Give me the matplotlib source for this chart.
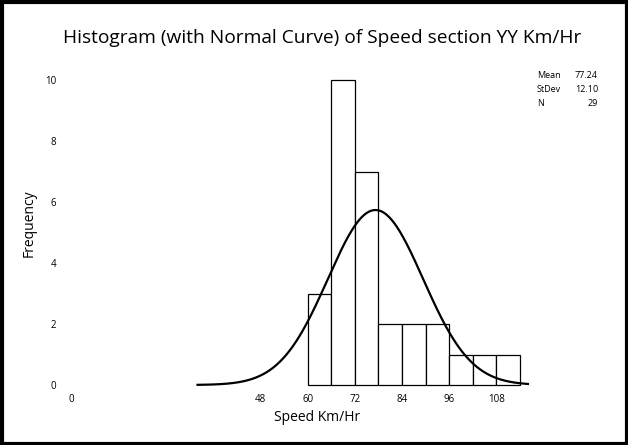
import numpy as np
import matplotlib
matplotlib.use("Agg")
import matplotlib.pyplot as plt
from matplotlib.patches import Rectangle

bin_edges = [60, 66, 72, 78, 84, 90, 96, 102, 108, 114]
counts = [3, 10, 7, 2, 2, 2, 1, 1, 1]
mean, stdev, n = 77.24, 12.10, 29
curve_range = (32, 116)
xticks = [0, 48, 60, 72, 84, 96, 108]
yticks = [0, 2, 4, 6, 8, 10]

W, H = 628, 445
fig = plt.figure(figsize=(W/100, H/100), dpi=100)
fig.patch.set_facecolor("white")
fam = ["Open Sans", "DejaVu Sans"]

# axes: x data -5..130 -> px 52..583 ; y -0.2..10.8 -> px 391..56
x0, x1 = 52, 583
ytop, ybot = 55.6, 391.1
ax = fig.add_axes([x0/W, 1-ybot/H, (x1-x0)/W, (ybot-ytop)/H])
ax.set_xlim(-5, 130)
ax.set_ylim(-0.2, 10.8)
for s in ax.spines.values():
    s.set_visible(False)

widths = np.diff(bin_edges)
ax.bar(bin_edges[:-1], counts, width=widths, align="edge", facecolor="white",
       edgecolor="black", linewidth=0.9)

xs = np.linspace(curve_range[0], curve_range[1], 400)
bw = widths[0]
ys = n * bw / (stdev * np.sqrt(2*np.pi)) * np.exp(-0.5*((xs-mean)/stdev)**2)
ax.plot(xs, ys, color="black", lw=1.6)

ax.set_xticks(xticks)
ax.set_xticklabels([str(t) for t in xticks], fontsize=7, family=fam)
ax.set_yticks(yticks)
ax.set_yticklabels([str(t) for t in yticks], fontsize=7, family=fam)
ax.tick_params(length=0)
ax.tick_params(axis="x", pad=2)
ax.tick_params(axis="y", pad=-3)
ax.set_xlabel("Speed Km/Hr", fontsize=10, family=fam, labelpad=4)
ax.set_ylabel("Frequency", fontsize=10, family=fam, labelpad=6)

fig.text(322/W, 1-38/H, "Histogram (with Normal Curve) of Speed section YY Km/Hr",
         ha="center", va="center", fontsize=13.8, family=fam)

labels = ["Mean", "StDev", "N"]
vals = [f"{mean:.2f}", f"{stdev:.2f}", f"{n}"]
for i, (l, v) in enumerate(zip(labels, vals)):
    yy = 1 - (76 + 14*i)/H
    fig.text(537/W, yy, l, ha="left", va="center", fontsize=6.5, family=fam)
    fig.text(598/W, yy, v, ha="right", va="center", fontsize=6.5, family=fam)

fig.patches.append(Rectangle((1.5/W, 1.5/H), 1-3/W, 1-3/H, transform=fig.transFigure,
                             fill=False, edgecolor="black", lw=3))

fig.savefig("out.png", dpi=100)
